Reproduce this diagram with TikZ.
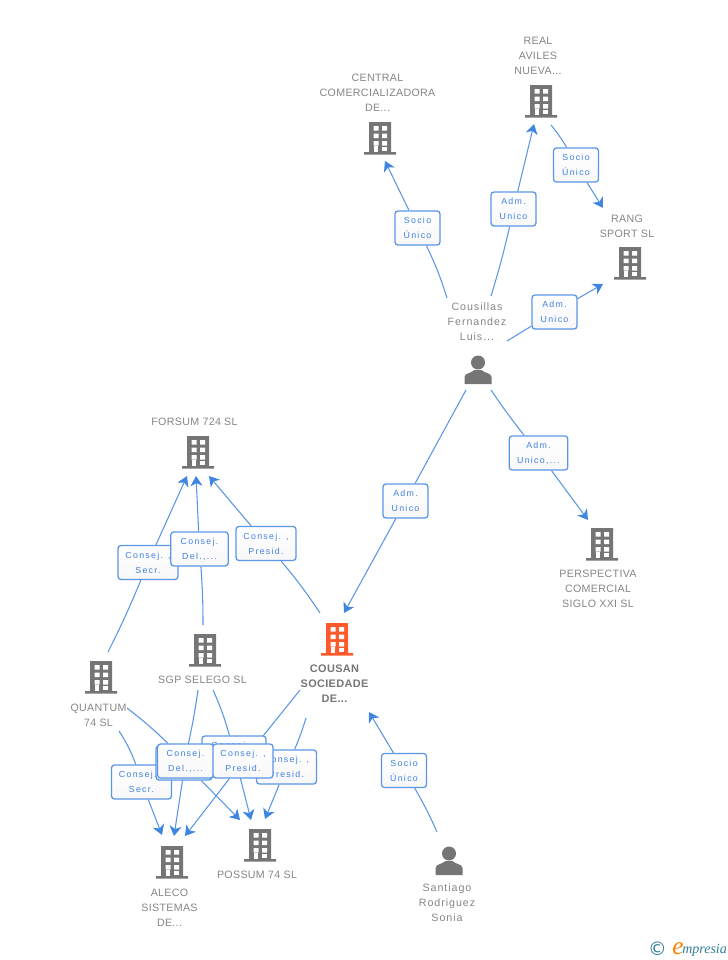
\documentclass[tikz,border=0pt]{standalone}
\usepackage{fontspec}
\setmainfont{Liberation Sans}
\newfontfamily\gfont[LetterSpace=3]{Liberation Sans}
\newfontfamily\pfont[LetterSpace=9]{Liberation Sans}
\newfontfamily\bfont[LetterSpace=15]{Liberation Sans}
\newfontfamily\lfont{Liberation Serif}
\newfontfamily\cfont{DejaVu Sans}
\usetikzlibrary{arrows.meta}
\pgfdeclarelayer{bg}
\pgfsetlayers{bg,main}
\definecolor{gicon}{HTML}{757575}
\definecolor{gtext}{HTML}{858585}
\definecolor{blink}{HTML}{5B96E6}
\definecolor{btip}{HTML}{3F86E0}
\definecolor{btext}{HTML}{3F80E0}
\definecolor{oicon}{HTML}{FF5A2C}
\definecolor{teal2}{HTML}{2F7C96}
\tikzset{
  x=.75pt,y=-.75pt,
  link/.style={draw=blink,line width=.8pt},
  arr/.style={link,-{Stealth[length=7.5pt,width=9pt,inset=2.2pt,color=btip]}},
  lab/.style={draw=blink,line width=.95pt,rounded corners=2.2pt,top color=white,bottom color=white!94!gray,
    minimum width=33.75pt,minimum height=25.5pt,inner sep=0pt,align=center,text=btext,
    font=\bfont\fontsize{6.6}{11.25}\selectfont},
  labw/.style={lab,minimum width=45pt},
  captxt/.style={inner sep=0pt,align=center,text=gtext,font=\gfont\fontsize{8}{11.25}\selectfont},
  ptxt/.style={captxt,font=\pfont\fontsize{8}{11.25}\selectfont},
  anch/.style={inner sep=0pt,minimum size=22pt},
  pics/bld/.style={code={
    \fill[#1] (-11,-17) rectangle (11,13) (-16,13) rectangle (16,15.5);
    \foreach \yy in {-13,-5.5,2}{
      \fill[white] (-6.5,\yy) rectangle (-1.5,\yy+4.5) (2,\yy) rectangle (7,\yy+4.5);}
    \fill[white] (-6.5,7) rectangle (-2,13);
    \fill[white] (2,7.5) rectangle (7,11.5);
  }},
  pics/pers/.style={code={
    \fill[gicon] (0,-7.5) circle[radius=7];
    \fill[gicon] (-13.5,14) -- (-13.5,7) .. controls (-13.5,3) and (-6,3) .. (-3.5,0)
       -- (3.5,0) .. controls (6,3) and (13.5,3) .. (13.5,7) -- (13.5,14) -- cycle;
  }}
}
\begin{document}
\begin{tikzpicture}
\useasboundingbox (0,0) rectangle (728,960);
% icons
\node[anch] (central) at (380,139) {}; \pic at (central) {bld=gicon};
\node[anch] (real) at (541,102) {}; \pic at (real) {bld=gicon};
\node[anch] (rang) at (630,264) {}; \pic at (rang) {bld=gicon};
\node[anch] (forsum) at (198,453) {}; \pic at (forsum) {bld=gicon};
\node[anch] (persp) at (602,545) {}; \pic at (persp) {bld=gicon};
\node[anch] (cousan) at (337,640) {}; \pic at (cousan) {bld=oicon};
\node[anch] (sgp) at (205,651) {}; \pic at (sgp) {bld=gicon};
\node[anch] (quantum) at (101,678) {}; \pic at (quantum) {bld=gicon};
\node[anch] (aleco) at (172,863) {}; \pic at (aleco) {bld=gicon};
\node[anch] (possum) at (260,846) {}; \pic at (possum) {bld=gicon};
\node[anch] (luis) at (478,370) {}; \pic at (luis) {pers};
\node[anch] (sonia) at (449,861) {}; \pic at (sonia) {pers};
% captions
\node[captxt] (tcentral) at (377.5,93) {CENTRAL\\COMERCIALIZADORA\\DE...};
\node[captxt] (treal) at (538,56) {REAL\\AVILES\\NUEVA...};
\node[captxt] (trang) at (627,226) {RANG\\SPORT SL};
\node[captxt] (tforsum) at (194.5,422) {FORSUM 724 SL};
\node[captxt] (tpersp) at (598,589) {PERSPECTIVA\\COMERCIAL\\SIGLO XXI SL};
\node[captxt,font=\bfseries\gfont\fontsize{8.2}{11.25}\selectfont,text=gicon] (tcousan) at (334.5,684) {COUSAN\\SOCIEDADE\\DE...};
\node[captxt] (tsgp) at (202.5,680) {SGP SELEGO SL};
\node[captxt] (tquantum) at (98.5,715) {QUANTUM\\74 SL};
\node[captxt] (taleco) at (169.5,908) {ALECO\\SISTEMAS\\DE...};
\node[captxt] (tpossum) at (257,875) {POSSUM 74 SL};
\node[ptxt] (tluis) at (477,322) {Cousillas\\Fernandez\\Luis...};
\node[ptxt] (tsonia) at (447,903) {Santiago\\Rodriguez\\Sonia};
% labels, in stacking order
\node[lab] (l1) at (417.5,228) {Socio\\Único};
\node[lab] (l2) at (513.5,209) {Adm.\\Unico};
\node[lab] (l3) at (576,165) {Socio\\Único};
\node[lab] (l4) at (554.5,312) {Adm.\\Unico};
\node[labw,minimum width=44pt] (l5) at (538.5,453) {Adm.\\Unico,...};
\node[lab] (l6) at (405.5,501) {Adm.\\Unico};
\node[labw] (l7) at (266,543.5) {Consej. ,\\Presid.};
\node[labw] (l9) at (148,562.5) {Consej. ,\\Secr.};
\node[labw,minimum width=43pt] (l8) at (199.5,549) {Consej.\\Del.,...};
\node[lab] (l16) at (404,770.5) {Socio\\Único};
\node[labw] (l10) at (141.5,782) {Consej. ,\\Secr.};
\node[labw,minimum width=48pt] (l13) at (234,753) {Consej. ,\\Presid.};
\node[labw] (l15) at (286.5,767) {Consej. ,\\Presid.};
\node[labw,minimum width=42pt] (l12) at (184,763) {Consej.\\Del.,...};
\node[labw,minimum width=42pt] (l11) at (185.5,761) {Consej.\\Del.,...};
\node[labw] (l14) at (243,761) {Consej. ,\\Presid.};
% free ends of the connectors
\foreach \n/\xx/\yy in {
 a1/447/298, b1/385/161, a2/491/296, b2/534/124, a3/551/125, b3/603/208,
 a4/507/341, b4/603/284, a5/491/390, b5/588/520, a6/466/390, b6/344/613,
 a7/320/613, b7/209/476, a8/203/625, b8/196/476, a9/108/652, b9/187/476,
 a10/119/731, b10/162/835, a11/127/708, b11/240/820, a12/198/690, b12/174/836,
 a13/213/690, b13/251/820, a14/300/690, b14/185/836, a15/306/718, b15/265/819,
 a16/437/832, b16/369/712}
 {\coordinate (\n) at (\xx,\yy);}
\begin{pgfonlayer}{bg}
\draw[link] (a1) to[bend right=4] (l1); \draw[arr] (l1) -- (b1);
\draw[link] (a2) to[bend right=2] (l2); \draw[arr] (l2) -- (b2);
\draw[link] (a3) to[bend left=4] (l3); \draw[arr] (l3) -- (b3);
\draw[link] (a4) -- (l4); \draw[arr] (l4) -- (b4);
\draw[link] (a5) to[bend right=2] (l5); \draw[arr] (l5) -- (b5);
\draw[link] (a6) -- (l6); \draw[arr] (l6) -- (b6);
\draw[link] (a7) to[bend right=3] (l7); \draw[arr] (l7) -- (b7);
\draw[link] (a8) to[bend right=2] (l8); \draw[arr] (l8) -- (b8);
\draw[link] (a9) to[bend right=2] (l9); \draw[arr] (l9) -- (b9);
\draw[link] (a10) to[bend left=6] (l10); \draw[arr] (l10) -- (b10);
\draw[link] (a11) to[bend left=3] (l11); \draw[arr] (l12) -- (b11);
\draw[link] (a12) to[bend left=2] (l12); \draw[arr] (l11) -- (b12);
\draw[link] (a13) to[bend left=4] (l13); \draw[arr] (l13) -- (b13);
\draw[link] (a14) -- (l14); \draw[arr] (l14) -- (b14);
\draw[link] (a15) to[bend left=3] (l15); \draw[arr] (l15) -- (b15);
\draw[link] (a16) to[bend right=3] (l16); \draw[arr] (l16) -- (b16);
\end{pgfonlayer}
% logo
\node[inner sep=0pt,text=teal2,font=\cfont\fontsize{14}{14}\selectfont] (logoc) at (657.5,949) {©};
\node[inner sep=0pt,anchor=base west,text=teal2,font=\lfont\itshape\fontsize{10.5}{11}\selectfont] (logot) at (682,953) {mpresia};
\node[inner sep=0pt,anchor=base east,text=orange,font=\lfont\itshape\fontsize{19}{19}\selectfont] (logoe) at (684,954) {e};
\end{tikzpicture}
\end{document}
